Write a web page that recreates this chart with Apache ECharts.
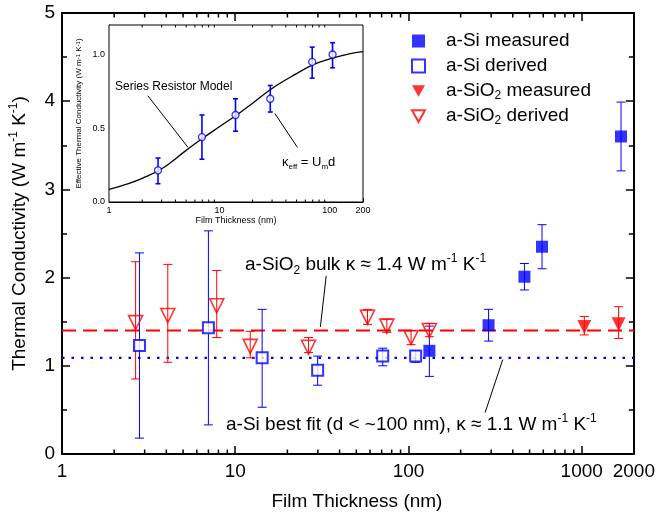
<!DOCTYPE html>
<html><head><meta charset="utf-8">
<script src="https://cdn.jsdelivr.net/npm/echarts@6/dist/echarts.min.js"></script>
<style>html,body{margin:0;padding:0;background:#fff}#c{width:658px;height:517px}</style>
</head><body><div id="c"></div>
<script>
// ---- main plot data (thickness nm, conductivity, error low, error high) ----
const siMeasuredX  = [132, 290, 467, 590, 1686];
const siMeasuredY  = [1.17, 1.46, 2.01, 2.35, 3.60];
const siMeasuredLo = [0.88, 1.28, 1.86, 2.10, 3.21];
const siMeasuredHi = [1.45, 1.64, 2.16, 2.60, 3.99];

const siDerivedX  = [2.8, 7.0, 14.3, 29.9, 71, 110];
const siDerivedY  = [1.23, 1.43, 1.09, 0.95, 1.11, 1.11];
const siDerivedLo = [0.18, 0.33, 0.53, 0.78, 1.00, 1.04];
const siDerivedHi = [2.28, 2.53, 1.64, 1.11, 1.20, 1.17];

const sio2MeasuredX  = [1035, 1633];
const sio2MeasuredY  = [1.44, 1.47];
const sio2MeasuredLo = [1.35, 1.31];
const sio2MeasuredHi = [1.56, 1.67];

const sio2DerivedX  = [2.66, 4.08, 7.82, 12.2, 26.5, 58, 75, 103.5, 132];
const sio2DerivedY  = [1.49, 1.57, 1.68, 1.22, 1.21, 1.55, 1.45, 1.32, 1.40];
const sio2DerivedLo = [0.85, 1.04, 1.32, 1.09, 1.15, 1.47, 1.38, 1.24, 1.33];
const sio2DerivedHi = [2.18, 2.15, 2.08, 1.39, 1.32, 1.64, 1.53, 1.40, 1.48];

const bulkSiO2 = 1.4;
const siBestFit = 1.09;
const mainXRange = [1, 2000];
const mainYTicks = [0, 1, 2, 3, 4, 5];

// ---- inset data ----
const insetX  = [2.78, 6.95, 14.0, 28.9, 69.3, 106];
const insetY  = [0.215, 0.44, 0.59, 0.70, 0.95, 1.00];
const insetLo = [0.124, 0.29, 0.48, 0.61, 0.84, 0.91];
const insetHi = [0.298, 0.59, 0.70, 0.79, 1.05, 1.08];
const modelX = [1, 1.5, 2, 3, 5, 7, 10, 15, 20, 30, 50, 70, 100, 150, 200];
const modelY = [0.086, 0.125, 0.16, 0.225, 0.35, 0.43, 0.51, 0.60, 0.67, 0.77, 0.87, 0.93, 0.97, 1.005, 1.02];

// minor tick positions for log axes
const mainMinor = [2,3,4,5,6,7,8,9,20,30,40,50,60,70,80,90,200,300,400,500,600,700,800,900];
const insetMinor = [2,3,4,5,6,7,8,9,20,30,40,50,60,70,80,90];

const BLUE = '#0000ff', RED = '#ff0000', FONT = 'Arial, "Liberation Sans", sans-serif';
const DOWN_TRI = 'path://M0,0L20,0L10,18Z';

function errSeries(xs, lo, hi, color, xi, yi, capW, lw) {
  return {
    type: 'custom', xAxisIndex: xi, yAxisIndex: yi, silent: true, z: 3,
    data: xs.map((x, i) => [x, lo[i], hi[i]]),
    encode: { x: 0, y: [1, 2] },
    renderItem(params, api) {
      const x = api.value(0);
      const p1 = api.coord([x, api.value(1)]);
      const p2 = api.coord([x, api.value(2)]);
      const st = { stroke: color, lineWidth: lw };
      return { type: 'group', children: [
        { type: 'line', shape: { x1: p1[0], y1: p1[1], x2: p2[0], y2: p2[1] }, style: st },
        { type: 'line', shape: { x1: p1[0] - capW, y1: p1[1], x2: p1[0] + capW, y2: p1[1] }, style: st },
        { type: 'line', shape: { x1: p2[0] - capW, y1: p2[1], x2: p2[0] + capW, y2: p2[1] }, style: st }
      ]};
    }
  };
}
function minorTickSeries(vals, xi, yi, yMin, yMax, len, lw) {
  return {
    type: 'custom', xAxisIndex: xi, yAxisIndex: yi, silent: true, z: 5,
    data: vals.map(v => [v, yMin]),
    encode: { x: 0, y: 1 },
    renderItem(params, api) {
      const v = api.value(0);
      const b = api.coord([v, yMin]);
      const t = api.coord([v, yMax]);
      const st = { stroke: '#000', lineWidth: lw };
      return { type: 'group', children: [
        { type: 'line', shape: { x1: b[0], y1: b[1], x2: b[0], y2: b[1] - len }, style: st },
        { type: 'line', shape: { x1: t[0], y1: t[1], x2: t[0], y2: t[1] + len }, style: st }
      ]};
    }
  };
}
const pts = (xs, ys) => xs.map((x, i) => [x, ys[i]]);
const subFmt = n => n.replace('SiO2', 'SiO{sub|2}');

const axisBase = {
  axisLine: { show: true, onZero: false, lineStyle: { color: '#000', width: 2 } },
  axisTick: { show: true, inside: true, length: 8, lineStyle: { color: '#000', width: 1.5 } },
  splitLine: { show: false }
};
const mainLabel = { fontSize: 19, color: '#000', fontFamily: FONT };

const chart = echarts.init(document.getElementById('c'), null, { renderer: 'canvas' });
chart.setOption({
  animation: false,
  backgroundColor: '#fff',
  textStyle: { fontFamily: FONT },
  grid: [
    { left: 62, right: 22, top: 13, bottom: 63, show: false },
    { left: 109, right: 295, top: 25, bottom: 315, show: true, backgroundColor: '#fff', borderColor: '#000', borderWidth: 1, z: 1 }
  ],
  xAxis: [
    Object.assign({}, axisBase, { type: 'log', logBase: 10, gridIndex: 0, min: mainXRange[0], max: mainXRange[1], position: 'bottom',
      axisLabel: Object.assign({ margin: 8, formatter: v => String(Math.round(v)) }, mainLabel),
      name: 'Film Thickness (nm)', nameLocation: 'middle', nameGap: 38,
      nameTextStyle: { fontSize: 19, color: '#000', fontFamily: FONT, padding: [0, 0, 0, 18] } }),
    Object.assign({}, axisBase, { type: 'log', logBase: 10, gridIndex: 0, min: mainXRange[0], max: mainXRange[1], position: 'top',
      axisLabel: { show: false } }),
    { type: 'log', logBase: 10, gridIndex: 1, min: 1, max: 200, position: 'bottom',
      axisLine: { show: true, onZero: false, lineStyle: { color: '#000', width: 1 } },
      axisTick: { show: true, inside: true, length: 4, lineStyle: { color: '#000', width: 1 } },
      splitLine: { show: false },
      axisLabel: { fontSize: 9, color: '#000', margin: 4, fontFamily: FONT, formatter: v => String(Math.round(v)) },
      name: 'Film Thickness (nm)', nameLocation: 'middle', nameGap: 14,
      nameTextStyle: { fontSize: 9, color: '#000', fontFamily: FONT } }
  ],
  yAxis: [
    Object.assign({}, axisBase, { type: 'value', gridIndex: 0, min: 0, max: 5, interval: 1, position: 'left',
      minorTick: { show: true, splitNumber: 2, length: 5, lineStyle: { color: '#000', width: 1.5 } },
      axisLabel: Object.assign({ margin: 7 }, mainLabel),
      name: 'Thermal Conductivity (W m{sup|-1} K{sup|-1})', nameLocation: 'middle', nameGap: 30,
      nameTextStyle: { fontSize: 19, color: '#000', fontFamily: FONT, lineHeight: 24,
        rich: { sup: { fontSize: 12, verticalAlign: 'top', lineHeight: 24, fontFamily: FONT } } } }),
    Object.assign({}, axisBase, { type: 'value', gridIndex: 0, min: 0, max: 5, interval: 1, position: 'right',
      minorTick: { show: true, splitNumber: 2, length: 5, lineStyle: { color: '#000', width: 1.5 } },
      axisLabel: { show: false } }),
    { type: 'value', gridIndex: 1, min: 0, max: 1.2, interval: 0.5, position: 'left',
      axisLine: { show: true, onZero: false, lineStyle: { color: '#000', width: 1 } },
      axisTick: { show: true, inside: true, length: 4, lineStyle: { color: '#000', width: 1 } },
      minorTick: { show: true, splitNumber: 2, length: 3, lineStyle: { color: '#000', width: 1 } },
      splitLine: { show: false },
      axisLabel: { fontSize: 9, color: '#000', margin: 4, fontFamily: FONT, showMaxLabel: false,
        formatter: v => (Math.abs(v * 2 - Math.round(v * 2)) < 1e-6 ? v.toFixed(1) : '') },
      name: 'Effective Thermal Conductivity (W m{sup|-1} K{sup|-1})', nameLocation: 'middle', nameGap: 26,
      nameTextStyle: { fontSize: 8, color: '#000', fontFamily: FONT, rich: { sup: { fontSize: 6, verticalAlign: 'top', fontFamily: FONT } } } },
    { type: 'value', gridIndex: 1, min: 0, max: 1.2, interval: 0.5, position: 'right',
      axisLine: { show: false }, splitLine: { show: false },
      axisTick: { show: true, inside: true, length: 4, lineStyle: { color: '#000', width: 1 } },
      minorTick: { show: true, splitNumber: 2, length: 3, lineStyle: { color: '#000', width: 1 } },
      axisLabel: { show: false } }
  ],
  legend: {
    orient: 'vertical', left: 406, top: 25, itemWidth: 13, itemHeight: 13, itemGap: 3,
    textStyle: { fontSize: 19, color: '#000', fontFamily: FONT, lineHeight: 22, padding: [0, 0, 0, 16],
      rich: { sub: { fontSize: 12, verticalAlign: 'bottom', lineHeight: 22, fontFamily: FONT } } },
    formatter: subFmt,
    data: [
      { name: 'a-Si measured' },
      { name: 'a-Si derived' },
      { name: 'a-SiO2 measured', icon: DOWN_TRI },
      { name: 'a-SiO2 derived', icon: DOWN_TRI }
    ]
  },
  series: [
    { type: 'line', xAxisIndex: 0, yAxisIndex: 0, silent: true, symbol: 'none', z: 2,
      data: [[mainXRange[0], bulkSiO2], [mainXRange[1], bulkSiO2]],
      lineStyle: { color: RED, width: 2, type: [14, 7] } },
    { type: 'line', xAxisIndex: 0, yAxisIndex: 0, silent: true, symbol: 'none', z: 2,
      data: [[mainXRange[0], siBestFit], [mainXRange[1], siBestFit]],
      lineStyle: { color: BLUE, width: 2.2, type: [2.5, 7] } },
    errSeries(siDerivedX, siDerivedLo, siDerivedHi, BLUE, 0, 0, 4.5, 1),
    errSeries(siMeasuredX, siMeasuredLo, siMeasuredHi, BLUE, 0, 0, 4.5, 1),
    errSeries(sio2DerivedX, sio2DerivedLo, sio2DerivedHi, RED, 0, 0, 4.5, 1),
    errSeries(sio2MeasuredX, sio2MeasuredLo, sio2MeasuredHi, RED, 0, 0, 4.5, 1),
    { name: 'a-Si measured', type: 'scatter', xAxisIndex: 0, yAxisIndex: 0, z: 4, symbol: 'rect', symbolSize: 12,
      itemStyle: { color: BLUE }, data: pts(siMeasuredX, siMeasuredY) },
    { name: 'a-Si derived', type: 'scatter', xAxisIndex: 0, yAxisIndex: 0, z: 4, symbol: 'rect', symbolSize: 11,
      itemStyle: { color: '#fff', borderColor: BLUE, borderWidth: 2 }, data: pts(siDerivedX, siDerivedY) },
    { name: 'a-SiO2 measured', type: 'scatter', xAxisIndex: 0, yAxisIndex: 0, z: 4, symbol: 'triangle', symbolRotate: 180, symbolSize: 14,
      itemStyle: { color: RED }, data: pts(sio2MeasuredX, sio2MeasuredY) },
    { name: 'a-SiO2 derived', type: 'scatter', xAxisIndex: 0, yAxisIndex: 0, z: 4, symbol: 'triangle', symbolRotate: 180, symbolSize: 14,
      itemStyle: { color: 'rgba(255,255,255,0)', borderColor: RED, borderWidth: 1.6 }, data: pts(sio2DerivedX, sio2DerivedY),
      markLine: { silent: true, symbol: ['none', 'arrow'], symbolSize: [0, 9], label: { show: false },
        lineStyle: { color: '#000', width: 1, type: 'solid' },
        data: [
          [{ coord: [33.5, 2.02] }, { coord: [31.0, 1.44] }],
          [{ coord: [277, 0.47] }, { coord: [350, 1.07] }]
        ] } },
    minorTickSeries(mainMinor, 0, 0, 0, 5, 4.5, 1.5),
    // inset
    { type: 'line', xAxisIndex: 2, yAxisIndex: 2, silent: true, symbol: 'none', smooth: 0.4, z: 3,
      data: pts(modelX, modelY), lineStyle: { color: '#000', width: 1.3 },
      markLine: { silent: true, symbol: ['none', 'arrow'], symbolSize: [0, 6], label: { show: false },
        lineStyle: { color: '#000', width: 1, type: 'solid' },
        data: [
          [{ coord: [2.25, 0.72] }, { coord: [5.2, 0.37] }],
          [{ coord: [51, 0.37] }, { coord: [31.8, 0.60] }]
        ] } },
    errSeries(insetX, insetLo, insetHi, BLUE, 2, 2, 2.5, 1.6),
    { type: 'scatter', xAxisIndex: 2, yAxisIndex: 2, z: 4, symbol: 'circle', symbolSize: 7, silent: true,
      itemStyle: { color: '#fff', borderColor: BLUE, borderWidth: 1.3 }, data: pts(insetX, insetY) },
    minorTickSeries(insetMinor, 2, 2, 0, 1.2, 2.5, 1)
  ],
  graphic: [
    { type: 'text', x: 245, y: 265, z: 10, silent: true,
      style: { text: 'a-SiO{sub|2} bulk κ ≈ 1.4 W m{sup|-1} K{sup|-1}', fill: '#000', fontSize: 19, fontFamily: FONT,
        verticalAlign: 'middle', lineHeight: 24,
        rich: { sub: { fontSize: 12, verticalAlign: 'bottom', lineHeight: 24, fontFamily: FONT },
                sup: { fontSize: 12, verticalAlign: 'top', lineHeight: 24, fontFamily: FONT } } } },
    { type: 'text', x: 226, y: 425, z: 10, silent: true,
      style: { text: 'a-Si best fit (d < ~100 nm), κ ≈ 1.1 W m{sup|-1} K{sup|-1}', fill: '#000', fontSize: 19, fontFamily: FONT,
        verticalAlign: 'middle', lineHeight: 24,
        rich: { sup: { fontSize: 12, verticalAlign: 'top', lineHeight: 24, fontFamily: FONT } } } },
    { type: 'text', x: 115, y: 87, z: 10, silent: true,
      style: { text: 'Series Resistor Model', fill: '#000', fontSize: 12, fontFamily: FONT, verticalAlign: 'middle' } },
    { type: 'text', x: 282, y: 162, z: 10, silent: true,
      style: { text: 'κ{sub|eff} = U{sub|m}d', fill: '#000', fontSize: 13, fontFamily: FONT, verticalAlign: 'middle', lineHeight: 18,
        rich: { sub: { fontSize: 8, verticalAlign: 'bottom', lineHeight: 18, fontFamily: FONT } } } }
  ]
});
</script>
</body></html>
